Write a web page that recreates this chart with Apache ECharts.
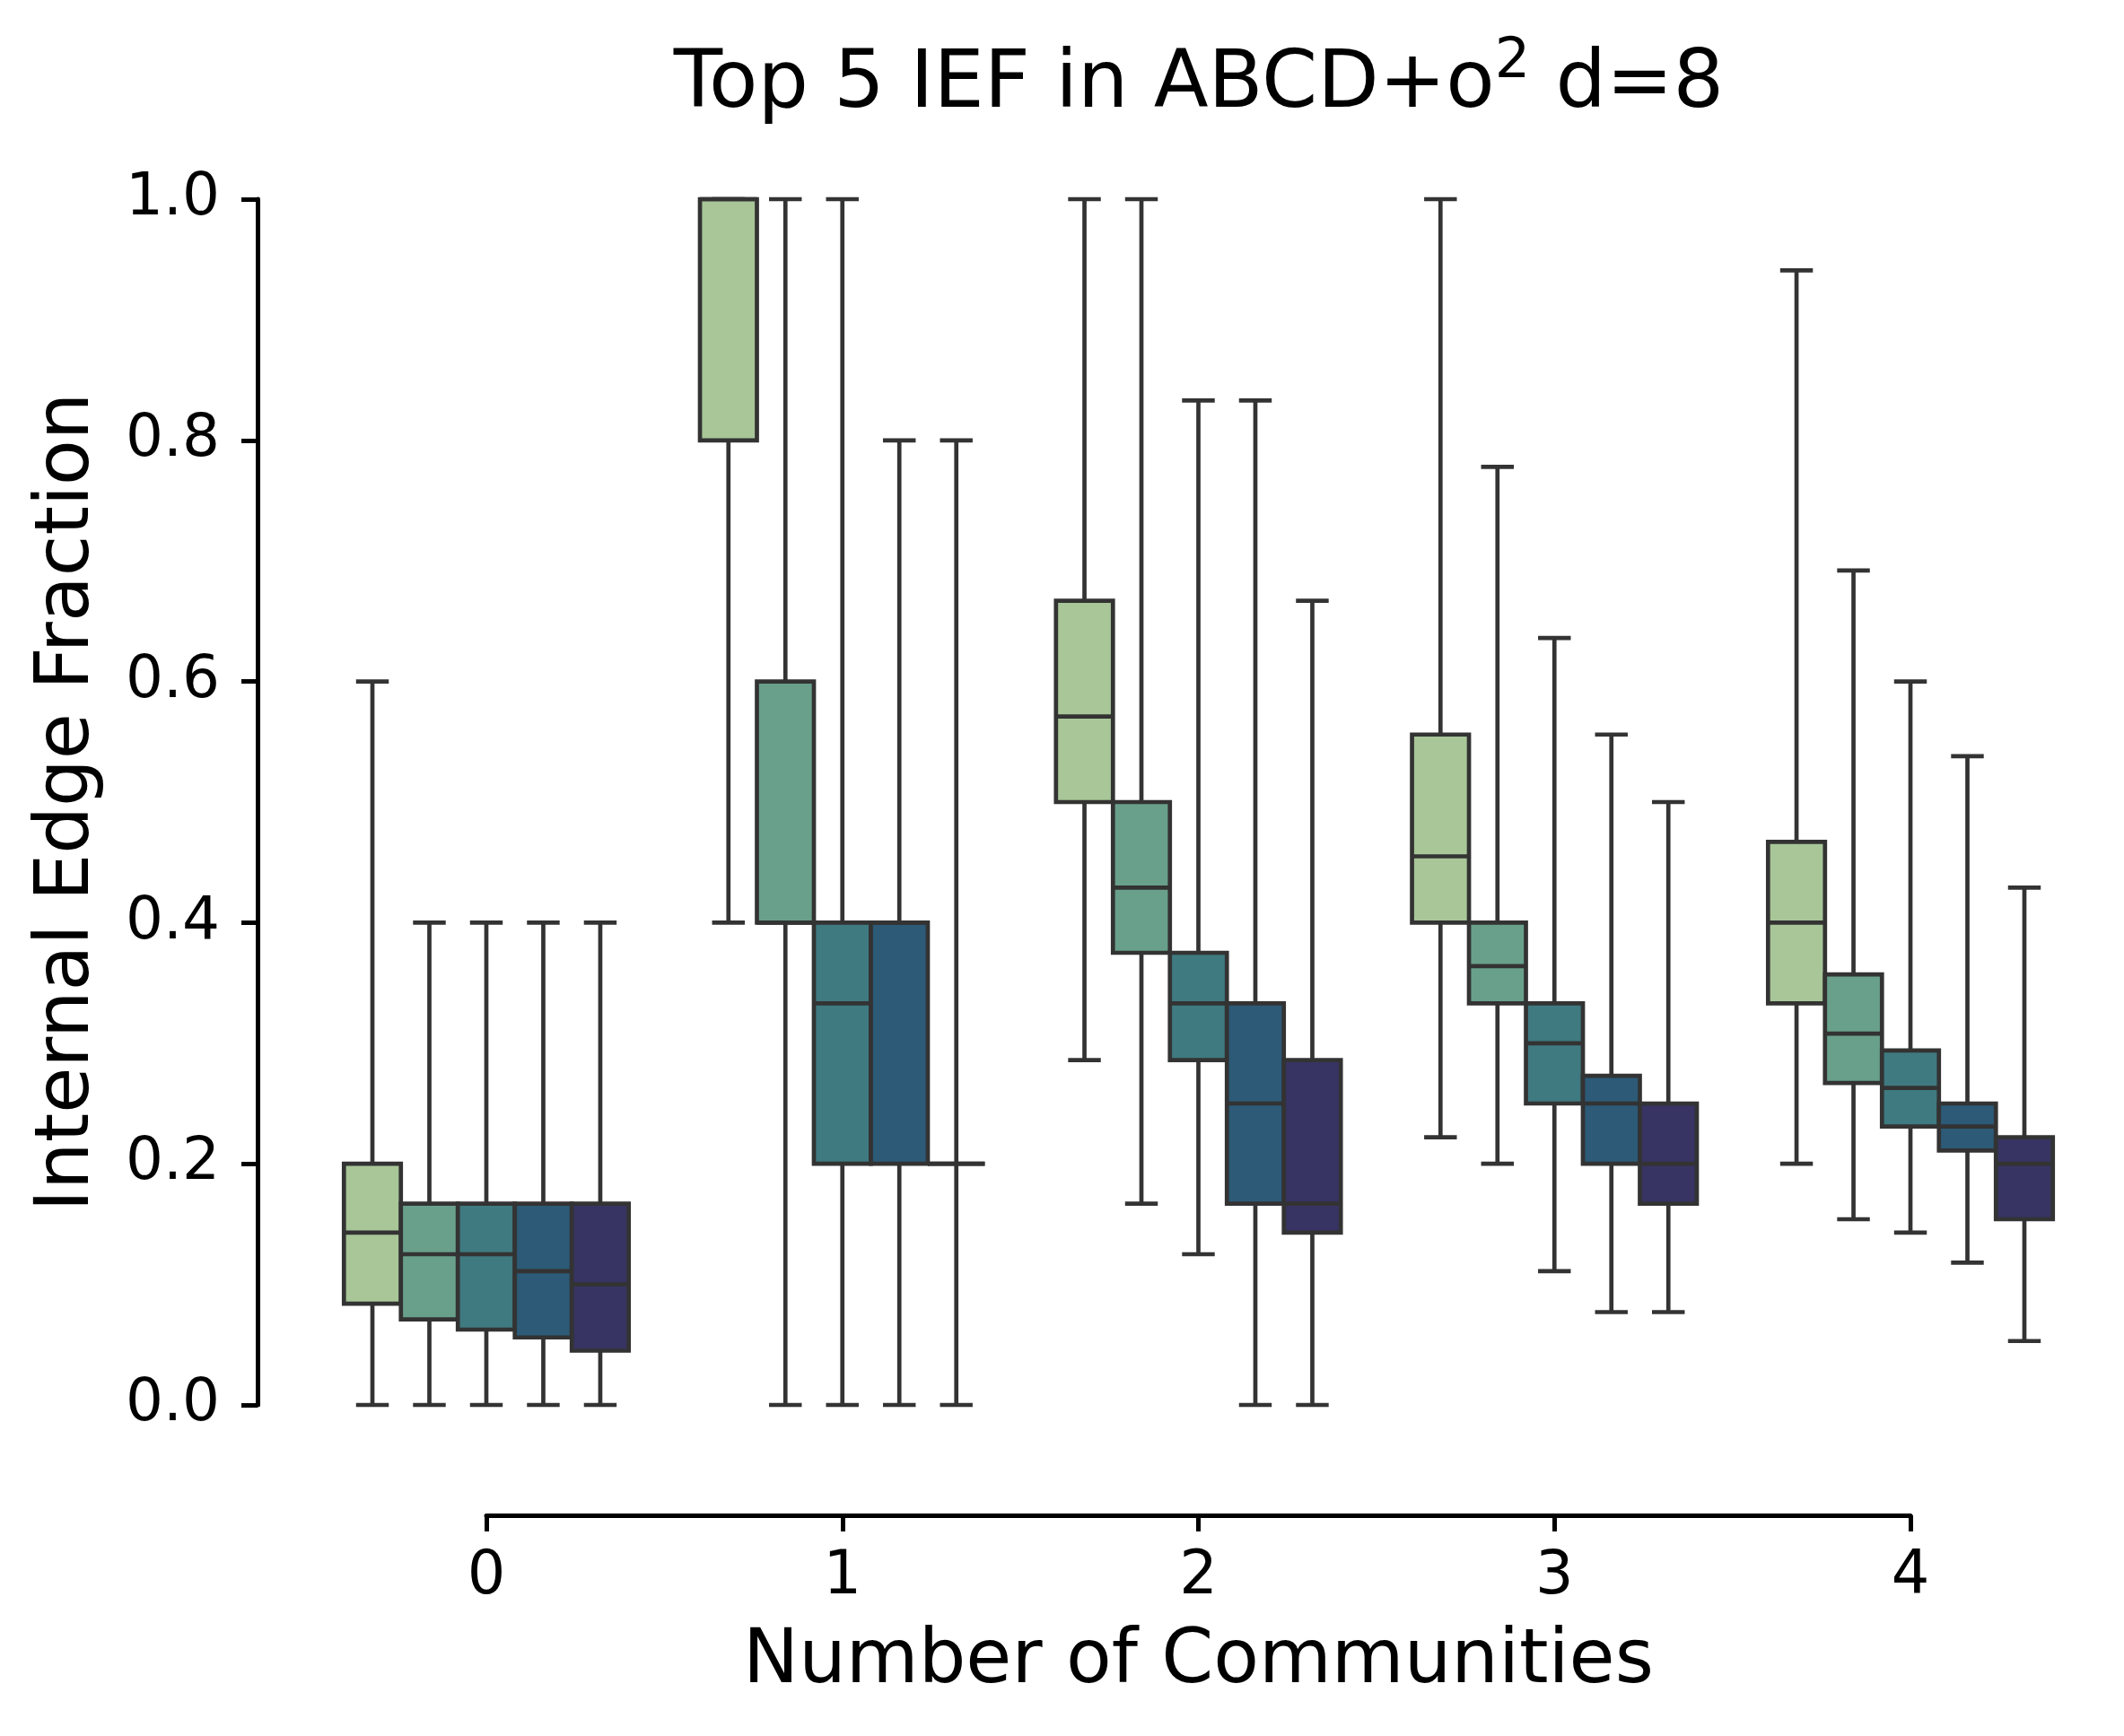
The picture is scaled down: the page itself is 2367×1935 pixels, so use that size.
<!DOCTYPE html>
<html>
<head>
<meta charset="utf-8">
<script src="https://cdn.jsdelivr.net/npm/echarts@6/dist/echarts.min.js"></script>
<style>
html,body{margin:0;padding:0;background:#fff;}
#chart{width:2367px;height:1935px;}
</style>
</head>
<body>
<div id="chart"></div>
<script>
// ---- data ----
const categories = [0, 1, 2, 3, 4];
const seriesNames = ['Top 1', 'Top 2', 'Top 3', 'Top 4', 'Top 5'];
// each row: [lower whisker, Q1, median, Q3, upper whisker] per category
const top1 = [[0, 0.084, 0.143, 0.2, 0.6], [0.4, 0.8, 1.0, 1.0, 1.0], [0.286, 0.5, 0.571, 0.667, 1.0], [0.222, 0.4, 0.455, 0.556, 1.0], [0.2, 0.333, 0.4, 0.467, 0.941]];
const top2 = [[0, 0.071, 0.125, 0.167, 0.4], [0, 0.4, 0.4, 0.6, 1.0], [0.167, 0.375, 0.429, 0.5, 1.0], [0.2, 0.333, 0.364, 0.4, 0.778], [0.154, 0.267, 0.308, 0.357, 0.692]];
const top3 = [[0, 0.0625, 0.125, 0.167, 0.4], [0, 0.2, 0.333, 0.4, 1.0], [0.125, 0.286, 0.333, 0.375, 0.833], [0.111, 0.25, 0.3, 0.333, 0.636], [0.143, 0.231, 0.263, 0.294, 0.6]];
const top4 = [[0, 0.056, 0.111, 0.167, 0.4], [0, 0.2, 0.4, 0.4, 0.8], [0, 0.167, 0.25, 0.333, 0.833], [0.077, 0.2, 0.25, 0.273, 0.556], [0.118, 0.211, 0.231, 0.25, 0.538]];
const top5 = [[0, 0.045, 0.1, 0.167, 0.4], [0, 0.2, 0.2, 0.2, 0.8], [0, 0.143, 0.167, 0.286, 0.667], [0.077, 0.167, 0.2, 0.25, 0.5], [0.053, 0.154, 0.2, 0.222, 0.429]];
const yTicks = [0, 0.2, 0.4, 0.6, 0.8, 1.0];
const allSeries = [top1, top2, top3, top4, top5];

// ---- style ----
const colors = ['#a8c698', '#69a08c', '#3f7a80', '#2c5a77', '#373463'];
const EDGE = '#333333';
const LW = 4.7;
const BOX_W = 0.16;
const CAP_W = 0.08;
const FONT = 'DejaVu Sans';

function makeRender(color) {
  return function (params, api) {
    const x = api.value(0);
    const c = (y) => api.coord([x, y]);
    const pLo = c(api.value(1)), pQ1 = c(api.value(2)), pMed = c(api.value(3)), pQ3 = c(api.value(4)), pHi = c(api.value(5));
    const half = api.size([BOX_W, 0])[0] / 2;
    const capHalf = api.size([CAP_W, 0])[0] / 2;
    const ls = { stroke: EDGE, lineWidth: LW, fill: null, lineCap: 'butt' };
    const cs = { stroke: EDGE, lineWidth: LW, fill: null, lineCap: 'square' };
    return {
      type: 'group',
      children: [
        { type: 'line', shape: { x1: pLo[0], y1: pLo[1], x2: pQ1[0], y2: pQ1[1] }, style: ls },
        { type: 'line', shape: { x1: pQ3[0], y1: pQ3[1], x2: pHi[0], y2: pHi[1] }, style: ls },
        { type: 'line', shape: { x1: pLo[0] - capHalf, y1: pLo[1], x2: pLo[0] + capHalf, y2: pLo[1] }, style: cs },
        { type: 'line', shape: { x1: pHi[0] - capHalf, y1: pHi[1], x2: pHi[0] + capHalf, y2: pHi[1] }, style: cs },
        { type: 'rect', shape: { x: pQ3[0] - half, y: pQ3[1], width: 2 * half, height: pQ1[1] - pQ3[1] }, style: { fill: color, stroke: EDGE, lineWidth: LW } },
        { type: 'line', shape: { x1: pMed[0] - half, y1: pMed[1], x2: pMed[0] + half, y2: pMed[1] }, style: ls }
      ]
    };
  };
}

const series = allSeries.map((rows, si) => ({
  name: seriesNames[si],
  type: 'custom',
  xAxisIndex: 0,
  yAxisIndex: 0,
  renderItem: makeRender(colors[si]),
  encode: { x: 0, y: [1, 2, 3, 4, 5] },
  data: rows.map((r, ci) => [categories[ci] + (si - 2) * BOX_W].concat(r)),
  z: 2 + si
}));

const chart = echarts.init(document.getElementById('chart'), null, { renderer: 'canvas' });
chart.setOption({
  backgroundColor: '#ffffff',
  animation: false,
  graphic: [{
    type: 'text',
    x: 1336, y: 96,
    style: {
      text: '{a|Top 5 IEF in ABCD+o}{s|2}{a| d=8}',
      align: 'center', verticalAlign: 'middle',
      textAlign: 'center', textVerticalAlign: 'middle',
      rich: {
        a: { fontSize: 89, fontFamily: FONT, fill: '#000', color: '#000', lineHeight: 114 },
        s: { fontSize: 62, fontFamily: FONT, fill: '#000', color: '#000', verticalAlign: 'top', lineHeight: 62 }
      }
    }
  }],
  grid: [
    { left: 343.6, right: 39.6, top: 222, bottom: 369, containLabel: false, outerBoundsMode: 'none' },
    { left: 542, right: 238, top: 222, bottom: 369, containLabel: false, outerBoundsMode: 'none' }
  ],
  xAxis: [
    { type: 'value', gridIndex: 0, min: -0.5, max: 4.5, show: false },
    {
      type: 'value', gridIndex: 1, min: 0, max: 4, interval: 1, position: 'bottom', offset: 123,
      axisLine: { show: true, onZero: false, lineStyle: { color: '#000', width: 5 } },
      axisTick: { show: true, length: 18, lineStyle: { color: '#000', width: 5 } },
      axisLabel: { fontSize: 67, fontFamily: FONT, color: '#000', margin: 36, formatter: (v) => String(categories[v]) },
      splitLine: { show: false },
      name: 'Number of Communities', nameLocation: 'middle', nameGap: 123,
      nameTextStyle: { fontSize: 83, fontFamily: FONT, color: '#000' }
    }
  ],
  yAxis: [
    {
      type: 'value', gridIndex: 0, min: yTicks[0], max: yTicks[yTicks.length - 1], interval: 0.2, offset: 56.6,
      axisLine: { show: true, onZero: false, lineStyle: { color: '#000', width: 5 } },
      axisTick: { show: true, length: 18, lineStyle: { color: '#000', width: 5 } },
      axisLabel: { fontSize: 66, fontFamily: FONT, color: '#000', margin: 42, formatter: (v) => v.toFixed(1) },
      splitLine: { show: false },
      name: 'Internal Edge Fraction', nameLocation: 'middle', nameRotate: 90, nameGap: 169,
      nameTextStyle: { fontSize: 83, fontFamily: FONT, color: '#000' }
    },
    { type: 'value', gridIndex: 1, min: 0, max: 1, show: false }
  ],
  series: series
});
</script>
</body>
</html>
